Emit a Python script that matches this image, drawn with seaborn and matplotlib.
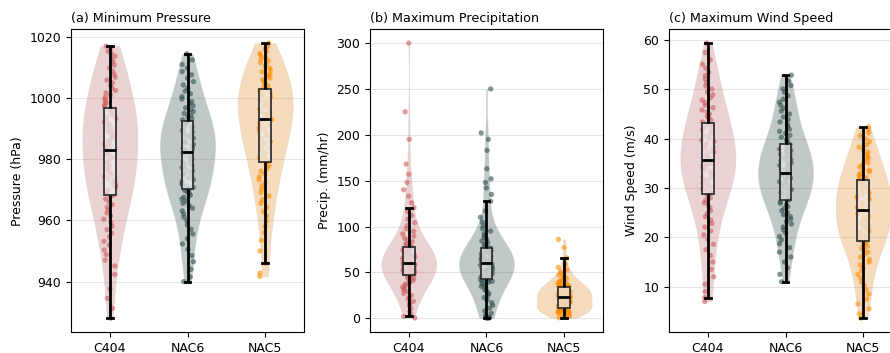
import numpy as np
import pandas as pd
import seaborn as sns
from matplotlib import pyplot as plt

models = ['C404', 'NAC6', 'NAC5']
colors = {'C404': 'indianred', 'NAC6': 'darkslategray', 'NAC5': 'darkorange'}

# minimum pressure (hPa)
c404_pressure = [
    928.0, 931.2, 934.5, 937.6, 942.3, 945.1, 947.0, 948.8, 950.3, 951.9,
    953.2, 954.6, 955.8, 957.0, 958.1, 959.3, 960.4, 961.5, 962.5, 963.4,
    964.3, 965.2, 966.1, 967.0, 967.8, 968.3, 968.9, 969.5, 970.1, 970.8,
    971.4, 972.0, 972.6, 973.2, 973.8, 974.4, 975.0, 975.6, 976.2, 976.8,
    977.4, 978.0, 978.6, 979.2, 979.8, 980.4, 981.0, 981.6, 982.2, 982.8,
    983.3, 983.9, 984.5, 985.0, 985.6, 986.1, 986.7, 987.2, 987.8, 988.3,
    988.9, 989.4, 990.0, 990.5, 991.1, 991.6, 992.2, 992.7, 993.3, 993.8,
    994.4, 994.9, 995.5, 996.0, 996.6, 997.2, 997.8, 998.4, 999.0, 999.6,
    1000.3, 1001.0, 1001.7, 1002.5, 1003.3, 1004.1, 1005.0, 1005.9, 1006.8, 1007.8,
    1008.8, 1009.8, 1010.8, 1011.8, 1012.8, 1013.7, 1014.5, 1015.3, 1016.2, 1017.0]
nac6_pressure = [
    940.0, 941.5, 944.0, 946.5, 948.5, 950.5, 952.3, 954.0, 955.6, 957.1,
    958.5, 959.8, 961.0, 962.1, 963.1, 964.0, 964.8, 965.6, 966.3, 967.0,
    967.6, 968.2, 968.8, 969.3, 969.8, 970.3, 970.8, 971.3, 971.8, 972.3,
    972.8, 973.3, 973.8, 974.3, 974.8, 975.3, 975.8, 976.3, 976.8, 977.3,
    977.8, 978.3, 978.8, 979.3, 979.7, 980.2, 980.7, 981.2, 981.6, 982.1,
    982.5, 982.9, 983.3, 983.7, 984.1, 984.5, 984.9, 985.3, 985.7, 986.1,
    986.5, 986.9, 987.3, 987.7, 988.1, 988.5, 988.9, 989.4, 989.8, 990.2,
    990.6, 991.0, 991.5, 991.9, 992.4, 992.9, 993.4, 993.9, 994.4, 995.0,
    995.6, 996.2, 996.8, 997.5, 998.2, 998.9, 999.7, 1000.5, 1001.4, 1002.3,
    1003.3, 1004.3, 1005.4, 1006.5, 1007.6, 1008.7, 1009.8, 1011.0, 1012.5, 1014.5]
nac5_pressure = [
    941.7, 942.8, 946.0, 950.0, 953.5, 956.0, 958.0, 959.8, 961.4, 962.9,
    964.3, 965.6, 966.8, 968.0, 969.1, 970.2, 971.3, 972.3, 973.3, 974.3,
    975.2, 976.1, 977.0, 977.9, 978.7, 979.3, 979.9, 980.5, 981.1, 981.7,
    982.3, 982.9, 983.5, 984.0, 984.6, 985.2, 985.8, 986.3, 986.9, 987.5,
    988.0, 988.6, 989.1, 989.7, 990.2, 990.8, 991.3, 991.8, 992.3, 992.8,
    993.2, 993.6, 994.0, 994.4, 994.8, 995.2, 995.6, 996.0, 996.4, 996.8,
    997.2, 997.6, 998.0, 998.4, 998.8, 999.2, 999.6, 1000.0, 1000.4, 1000.8,
    1001.2, 1001.6, 1002.0, 1002.5, 1003.0, 1003.5, 1004.0, 1004.5, 1005.0, 1005.5,
    1006.0, 1006.5, 1007.0, 1007.5, 1008.0, 1008.6, 1009.2, 1009.8, 1010.4, 1011.0,
    1011.6, 1012.2, 1012.8, 1013.4, 1014.0, 1014.6, 1015.3, 1016.0, 1016.8, 1018.0]

# maximum precipitation (mm/hr)
c404_precip = [
    0.3, 2.0, 4.5, 7.5, 10.5, 13.5, 16.0, 18.5, 21.0, 23.0,
    25.0, 27.0, 29.0, 30.8, 32.5, 34.0, 35.5, 37.0, 38.4, 39.7,
    41.0, 42.3, 43.5, 44.7, 46.0, 47.3, 47.8, 48.3, 48.8, 49.3,
    49.8, 50.3, 50.8, 51.3, 51.8, 52.3, 52.8, 53.3, 53.8, 54.3,
    54.8, 55.3, 55.8, 56.4, 57.0, 57.5, 58.0, 58.6, 59.1, 59.7,
    60.3, 61.0, 61.7, 62.4, 63.1, 63.8, 64.5, 65.2, 65.9, 66.6,
    67.3, 68.0, 68.7, 69.4, 70.1, 70.8, 71.5, 72.2, 72.9, 73.6,
    74.3, 75.0, 75.8, 76.6, 77.3, 78.3, 79.8, 81.5, 83.3, 85.2,
    87.3, 89.5, 92.0, 94.7, 97.6, 100.8, 104.2, 108.0, 112.0, 116.2,
    120.5, 126.0, 133.0, 140.0, 148.0, 157.0, 168.0, 195.0, 225.0, 300.0]
nac6_precip = [
    0.0, 0.2, 0.5, 1.0, 2.0, 3.5, 5.5, 8.0, 11.0, 14.0,
    17.0, 20.0, 22.5, 25.0, 27.2, 29.3, 31.2, 33.0, 34.7, 36.3,
    37.8, 39.2, 40.2, 41.0, 41.8, 42.5, 43.3, 44.1, 44.9, 45.6,
    46.3, 47.0, 47.7, 48.4, 49.1, 49.8, 50.5, 51.2, 51.9, 52.6,
    53.3, 54.0, 54.8, 55.6, 56.4, 57.2, 57.9, 58.6, 59.3, 59.9,
    60.3, 61.0, 61.6, 62.3, 63.0, 63.6, 64.3, 65.0, 65.6, 66.3,
    67.0, 67.6, 68.3, 69.0, 69.6, 70.3, 71.0, 71.6, 72.3, 73.0,
    73.6, 74.3, 75.0, 75.6, 76.3, 77.5, 79.0, 80.6, 82.3, 84.1,
    86.0, 88.0, 90.2, 92.5, 95.0, 97.8, 101.0, 105.0, 110.0, 117.0,
    127.5, 135.0, 142.0, 148.0, 152.0, 163.0, 183.0, 195.0, 202.0, 250.0]
nac5_precip = [
    0.5, 1.2, 2.0, 2.8, 3.5, 4.1, 4.7, 5.2, 5.7, 6.1,
    6.5, 6.9, 7.3, 7.7, 8.0, 8.3, 8.6, 8.9, 9.2, 9.5,
    9.8, 10.1, 10.4, 10.6, 10.8, 11.3, 11.8, 12.3, 12.8, 13.3,
    13.8, 14.3, 14.8, 15.3, 15.8, 16.3, 16.8, 17.3, 17.8, 18.3,
    18.8, 19.3, 19.8, 20.3, 20.8, 21.3, 21.7, 22.1, 22.5, 22.8,
    23.1, 23.5, 23.9, 24.4, 24.9, 25.3, 25.8, 26.3, 26.7, 27.2,
    27.6, 28.1, 28.5, 28.9, 29.4, 29.8, 30.3, 30.7, 31.1, 31.5,
    32.0, 32.4, 32.8, 33.2, 33.6, 34.0, 34.5, 35.0, 35.5, 36.1,
    36.7, 37.3, 38.0, 38.7, 39.5, 40.3, 41.2, 42.2, 43.3, 44.5,
    45.8, 47.2, 48.8, 50.6, 52.8, 55.5, 59.0, 65.8, 77.0, 86.0]

# maximum wind speed (m/s)
c404_wind = [
    7.0, 7.8, 9.0, 10.5, 12.0, 13.5, 15.0, 16.3, 17.5, 18.6,
    19.6, 20.5, 21.3, 22.1, 22.8, 23.5, 24.2, 24.8, 25.4, 26.0,
    26.5, 27.0, 27.5, 28.0, 28.5, 28.9, 29.2, 29.5, 29.8, 30.1,
    30.4, 30.7, 31.0, 31.3, 31.6, 31.9, 32.2, 32.5, 32.8, 33.1,
    33.4, 33.7, 34.0, 34.3, 34.6, 34.8, 35.0, 35.2, 35.4, 35.6,
    35.8, 36.1, 36.4, 36.7, 37.0, 37.3, 37.6, 37.9, 38.2, 38.5,
    38.8, 39.1, 39.4, 39.7, 40.0, 40.3, 40.6, 40.9, 41.2, 41.5,
    41.8, 42.1, 42.4, 42.7, 43.0, 43.4, 43.8, 44.2, 44.6, 45.0,
    45.4, 45.8, 46.3, 46.8, 47.3, 47.8, 48.3, 48.9, 49.5, 50.1,
    50.7, 51.4, 52.1, 52.8, 53.5, 54.3, 55.1, 56.0, 57.5, 59.4]
nac6_wind = [
    11.0, 12.5, 13.8, 15.0, 16.0, 17.0, 17.9, 18.7, 19.5, 20.2,
    20.9, 21.5, 22.1, 22.7, 23.2, 23.7, 24.2, 24.6, 25.0, 25.4,
    25.8, 26.2, 26.6, 26.9, 27.2, 27.6, 27.8, 28.0, 28.3, 28.5,
    28.7, 29.0, 29.2, 29.4, 29.7, 29.9, 30.1, 30.4, 30.6, 30.8,
    31.1, 31.3, 31.5, 31.8, 32.0, 32.2, 32.4, 32.6, 32.8, 33.0,
    33.2, 33.4, 33.7, 33.9, 34.1, 34.4, 34.6, 34.8, 35.1, 35.3,
    35.5, 35.8, 36.0, 36.2, 36.5, 36.7, 36.9, 37.2, 37.4, 37.6,
    37.9, 38.1, 38.3, 38.5, 38.8, 39.1, 39.5, 39.9, 40.3, 40.7,
    41.1, 41.5, 41.9, 42.4, 42.9, 43.4, 43.9, 44.4, 45.0, 45.6,
    46.2, 46.8, 47.4, 48.0, 48.7, 49.4, 50.1, 50.8, 51.7, 52.9]
nac5_wind = [
    3.6, 4.5, 5.5, 6.5, 7.5, 8.5, 9.4, 10.2, 11.0, 11.8,
    12.5, 13.2, 13.8, 14.4, 15.0, 15.5, 16.0, 16.5, 17.0, 17.4,
    17.8, 18.2, 18.5, 18.8, 19.1, 19.4, 19.7, 19.9, 20.2, 20.4,
    20.7, 20.9, 21.2, 21.4, 21.7, 21.9, 22.2, 22.4, 22.7, 22.9,
    23.2, 23.4, 23.7, 23.9, 24.2, 24.4, 24.7, 24.9, 25.2, 25.4,
    25.6, 25.9, 26.1, 26.4, 26.6, 26.9, 27.1, 27.4, 27.6, 27.9,
    28.1, 28.4, 28.6, 28.9, 29.1, 29.4, 29.6, 29.9, 30.1, 30.4,
    30.6, 30.9, 31.1, 31.3, 31.5, 31.8, 32.1, 32.4, 32.7, 33.0,
    33.3, 33.6, 33.9, 34.3, 34.7, 35.1, 35.5, 35.9, 36.3, 36.8,
    37.3, 37.8, 38.3, 38.8, 39.4, 40.0, 40.6, 41.2, 41.8, 42.4]

panels = [
    ('(a) Minimum Pressure', 'Pressure (hPa)', [c404_pressure, nac6_pressure, nac5_pressure]),
    ('(b) Maximum Precipitation', 'Precip. (mm/hr)', [c404_precip, nac6_precip, nac5_precip]),
    ('(c) Maximum Wind Speed', 'Wind Speed (m/s)', [c404_wind, nac6_wind, nac5_wind]),
]


def long_frame(series):
    rows = []
    for name, vals in zip(models, series):
        rows += [(name, v) for v in vals]
    return pd.DataFrame(rows, columns=['model', 'value'])


if __name__ == '__main__':
    np.random.seed(3)
    fig = plt.figure(figsize=(8.9, 3.53), dpi=100)
    lefts = [0.0798, 0.4157, 0.7517]

    for left, (title, ylabel, series) in zip(lefts, panels):
        ax = fig.add_axes([left, 0.0595, 0.2618, 0.8575])
        df = long_frame(series)

        sns.violinplot(data=df, x='model', y='value', hue='model', order=models,
                       palette=colors, inner=None, cut=0, density_norm='width',
                       width=0.71, linecolor='#c8c8c8', linewidth=0.6, alpha=0.3,
                       legend=False, ax=ax)
        sns.stripplot(data=df, x='model', y='value', hue='model', order=models,
                      palette=colors, size=3.8, alpha=0.6, jitter=0.08,
                      linewidth=0, legend=False, ax=ax)
        sns.boxplot(data=df, x='model', y='value', order=models, width=0.15,
                    showfliers=False, ax=ax)

        # style the boxes so they sit on top of the points
        for patch in ax.patches:
            patch.set_facecolor((0.93, 0.93, 0.93, 0.75))
            patch.set_edgecolor('#333333')
            patch.set_linewidth(1.3)
            patch.set_zorder(3)
        for line in ax.lines:
            line.set_color('black')
            line.set_linewidth(2)
            line.set_zorder(4)

        ax.grid(axis='y', color='#e6e6e6', linewidth=0.8)
        ax.set_axisbelow(True)
        ax.set_xlabel('')
        ax.set_ylabel(ylabel, fontsize=9)
        ax.set_title(title, loc='left', fontsize=9.2, pad=5)
        ax.tick_params(labelsize=9)

    plt.savefig('out.png', dpi=100)
